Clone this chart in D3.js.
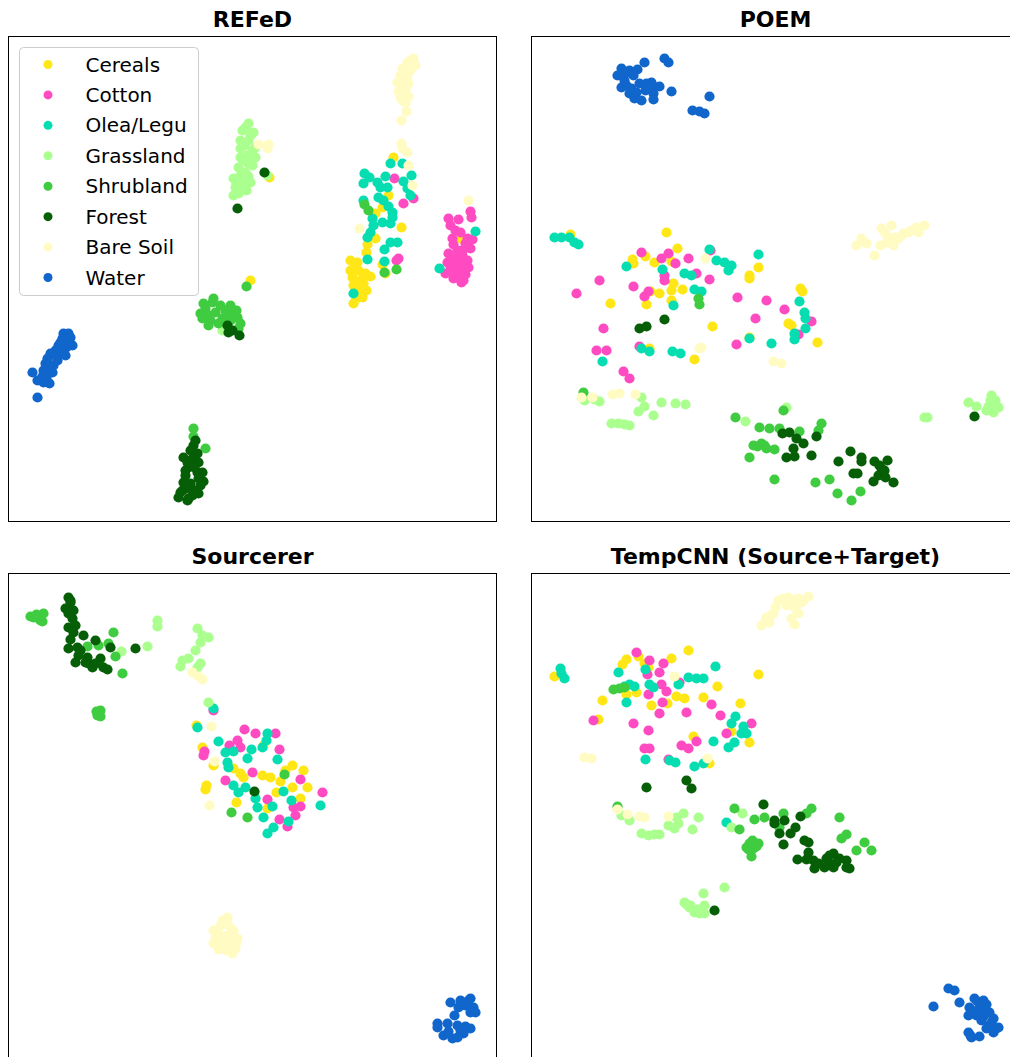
<!DOCTYPE html>
<html>
<head>
<meta charset="utf-8">
<script src="https://cdn.jsdelivr.net/npm/d3@7"></script>
<style>
  html, body { margin: 0; padding: 0; background: #fff; }
  svg { display: block; }
</style>
</head>
<body>
<svg id="chart" width="1010" height="1057"></svg>
<script>
// ---- Categories & colours ----
const classNames = ["Cereals", "Cotton", "Olea/Legu", "Grassland", "Shrubland", "Forest", "Bare Soil", "Water"];
const classColors = ["#FFE617", "#FF4BC1", "#06DDB0", "#AAFF8F", "#40CC40", "#065F06", "#FFFBC2", "#1166CC"];
const panelTitles = ["REFeD", "POEM", "Sourcerer", "TempCNN (Source+Target)"];

// ---- Embedding coordinates (2-D projection), per panel and class ----
// REFeD
const refedCereals = [[393,157],[388,195],[375,213],[382,207],[401,227],[375,238],[367,244],[366,252],[382,264],[385,273],[350,260],[357,262],[350,270],[358,270],[365,273],[352,277],[362,278],[370,276],[353,285],[363,283],[357,292],[362,297],[353,303],[457,233],[460,238],[250,280],[269,177],[355,266],[360,288],[366,290],[356,298],[354,280]];
const refedCotton = [[394,178],[403,203],[413,198],[396,260],[398,258],[470,211],[471,217],[448,218],[458,219],[450,225],[460,232],[452,238],[467,238],[472,239],[453,244],[470,248],[457,250],[448,253],[462,255],[467,260],[453,260],[447,262],[460,263],[468,267],[457,268],[463,270],[445,273],[452,273],[460,277],[453,278],[463,280],[461,282],[455,230],[465,243],[462,250],[456,257],[450,266],[465,274],[455,270]];
const refedOlea = [[390,163],[402,163],[364,173],[369,177],[363,183],[385,176],[377,182],[380,187],[387,187],[403,181],[411,175],[407,188],[410,195],[363,200],[378,197],[383,200],[388,206],[392,212],[372,218],[392,217],[382,222],[390,223],[373,225],[370,232],[367,237],[390,242],[397,242],[384,249],[367,259],[384,261],[353,293],[439,268],[475,231]];
const refedGrass = [[248,123],[242,130],[253,132],[240,140],[248,140],[255,147],[240,148],[247,155],[255,157],[240,157],[248,163],[238,167],[245,172],[233,178],[242,180],[250,182],[235,187],[243,187],[238,193],[233,195],[267,175],[222,330],[245,127],[250,135],[244,145],[252,150],[243,160],[252,165],[240,175],[248,176],[236,183],[246,190]];
const refedShrub = [[246,286],[213,298],[203,303],[220,305],[200,313],[208,315],[230,305],[233,312],[237,317],[240,323],[208,325],[218,323],[202,318],[215,312],[227,317],[364,204],[368,210],[384,272],[396,269],[193,428],[193,436],[205,448],[205,308],[212,302],[225,310],[236,310],[238,328],[230,320],[222,318],[210,320]];
const refedForest = [[264,172],[237,208],[227,325],[232,330],[239,335],[228,332],[193,445],[190,450],[197,453],[183,457],[192,458],[198,462],[188,467],[202,472],[197,472],[203,481],[183,482],[190,483],[182,490],[193,490],[198,493],[178,497],[188,498],[187,500],[195,440],[187,462],[194,467],[185,475],[198,478],[186,488],[192,495],[180,492],[200,485],[185,470]];
const refedBare = [[413,58],[407,62],[415,65],[402,68],[410,70],[400,75],[407,77],[397,82],[408,83],[402,88],[403,93],[400,97],[405,102],[406,111],[401,120],[401,143],[402,148],[407,152],[408,165],[412,185],[359,228],[468,200],[258,144],[268,144],[267,148],[410,60],[405,72],[403,80],[406,87],[398,91],[402,100],[408,96]];
const refedWater = [[63,333],[68,333],[62,338],[72,345],[58,345],[55,350],[65,355],[50,353],[47,358],[57,360],[45,363],[53,365],[43,370],[52,372],[32,372],[37,380],[43,382],[49,383],[37,397],[70,337],[60,342],[66,347],[56,356],[48,366],[42,376],[46,377],[60,350],[64,340]];

// POEM
const poemCereals = [[570,234],[666,232],[677,248],[632,259],[633,263],[645,256],[654,262],[671,261],[673,283],[671,290],[682,289],[659,293],[671,300],[646,304],[610,303],[650,291],[758,267],[749,275],[749,278],[800,288],[802,291],[788,323],[791,325],[712,326],[749,337],[817,342],[694,359],[649,348]];
const poemCotton = [[641,252],[599,280],[576,293],[633,286],[661,258],[668,253],[664,280],[675,263],[688,258],[696,273],[709,279],[648,291],[644,296],[664,275],[603,328],[596,350],[606,350],[639,346],[623,371],[629,378],[737,297],[766,300],[784,309],[755,318],[811,321],[798,334],[736,344],[710,250]];
const poemOlea = [[554,237],[561,237],[569,237],[574,242],[578,244],[626,266],[662,269],[684,273],[691,275],[709,249],[716,260],[724,262],[731,265],[728,270],[758,254],[694,289],[701,291],[673,305],[799,301],[804,312],[805,318],[805,328],[794,333],[794,339],[749,338],[771,343],[602,361],[641,348],[649,351],[672,351],[680,353]];
const poemGrass = [[968,402],[976,406],[991,395],[991,403],[998,407],[986,410],[993,412],[924,417],[786,407],[745,421],[584,400],[599,401],[641,397],[644,406],[638,411],[653,415],[661,402],[675,403],[685,404],[611,423],[618,423],[624,424],[629,425],[594,399],[990,400],[995,400],[988,406],[927,417]];
const poemShrub = [[698,298],[699,304],[583,392],[735,417],[783,410],[759,427],[769,428],[779,428],[799,431],[821,423],[818,430],[753,445],[761,443],[766,448],[774,449],[749,457],[774,479],[815,482],[829,479],[837,493],[851,500],[860,491],[757,446],[764,445]];
const poemForest = [[639,328],[646,326],[664,319],[782,433],[789,432],[796,438],[803,443],[793,448],[786,457],[794,456],[816,436],[811,455],[850,451],[838,461],[861,457],[861,461],[853,473],[857,473],[874,461],[887,460],[881,468],[878,475],[873,481],[885,477],[893,482],[974,416],[879,465],[884,470]];
const poemBare = [[881,228],[891,225],[916,227],[924,225],[861,238],[856,245],[866,243],[886,242],[894,237],[903,233],[911,230],[918,232],[893,245],[874,255],[898,238],[581,397],[592,397],[612,394],[619,393],[635,394],[705,258],[699,348],[701,347],[773,361],[781,363],[908,232],[900,236],[889,240],[880,245],[885,233]];
const poemWater = [[621,68],[617,75],[629,70],[637,69],[644,62],[664,58],[668,62],[624,80],[621,87],[631,88],[639,83],[646,83],[651,82],[659,86],[629,93],[634,98],[641,100],[653,93],[653,99],[671,91],[709,96],[692,110],[699,111],[704,113],[625,73],[633,75],[626,85],[636,92],[645,90],[650,87]];

// Sourcerer
const srcCereals = [[196,725],[202,747],[213,765],[233,768],[240,773],[243,777],[262,775],[270,777],[280,781],[292,765],[285,770],[303,770],[307,787],[292,787],[276,792],[206,785],[205,789],[236,802],[267,808],[263,745],[300,798]];
const srcCotton = [[244,729],[255,733],[275,733],[229,745],[237,740],[240,747],[279,749],[203,755],[204,751],[252,772],[225,780],[300,779],[267,799],[293,807],[300,806],[295,815],[322,792],[279,819],[287,826],[213,710]];
const srcOlea = [[213,708],[197,727],[218,741],[267,733],[266,740],[262,747],[225,752],[233,751],[251,749],[247,758],[227,762],[228,767],[277,759],[233,785],[245,787],[238,792],[255,798],[257,807],[272,806],[283,791],[291,800],[320,805],[263,817],[273,827],[267,833],[288,821]];
const srcGrass = [[157,620],[157,626],[147,646],[121,651],[197,628],[202,635],[208,637],[200,642],[195,650],[182,660],[188,658],[200,663],[180,666],[197,667],[208,702]];
const srcShrub = [[33,617],[40,620],[43,613],[113,632],[87,646],[98,645],[108,643],[115,656],[99,663],[122,673],[98,713],[97,715],[231,812],[247,817],[284,774],[36,614],[38,618],[42,621],[30,616],[100,710],[96,711],[100,716]];
const srcForest = [[68,597],[70,602],[65,608],[73,610],[72,618],[68,627],[73,632],[70,639],[83,635],[95,640],[110,647],[135,648],[68,648],[77,647],[78,655],[87,657],[75,662],[88,663],[100,658],[92,667],[103,667],[107,669],[254,791],[70,600],[68,613],[75,625],[80,650],[85,662],[95,663]];
const srcBare = [[192,672],[198,676],[202,679],[211,726],[214,761],[209,805],[227,917],[222,920],[213,930],[233,930],[215,937],[227,935],[237,938],[213,943],[222,947],[233,945],[235,948],[218,949],[232,953],[227,942],[220,925],[228,925],[218,933],[230,940],[220,940],[226,950],[236,942]];
const srcWater = [[450,1002],[460,1000],[470,998],[465,1005],[473,1007],[458,1007],[475,1012],[454,1015],[437,1023],[447,1023],[457,1025],[465,1026],[470,1028],[463,1033],[443,1035],[452,1038],[457,1037],[437,1027],[468,1000],[462,1003],[470,1012],[460,1030],[448,1031]];

// TempCNN (Source+Target)
const tcnnCereals = [[554,676],[688,650],[638,656],[626,659],[622,664],[671,658],[644,663],[758,674],[717,686],[602,700],[626,694],[636,692],[676,696],[684,698],[703,697],[667,703],[651,705],[740,703],[598,719],[731,731],[693,736],[749,742],[709,763],[648,667]];
const tcnnCotton = [[636,652],[649,660],[663,663],[659,672],[647,674],[661,684],[666,691],[648,694],[662,702],[659,713],[686,712],[711,704],[720,715],[593,720],[633,723],[648,730],[726,733],[751,723],[696,741],[681,745],[688,748],[644,748],[649,748],[668,759],[679,682]];
const tcnnOlea = [[560,668],[561,673],[564,678],[618,672],[645,669],[624,686],[629,684],[634,686],[649,684],[653,687],[678,684],[688,677],[696,678],[703,678],[715,666],[626,702],[735,716],[731,723],[743,726],[741,733],[746,733],[734,742],[728,747],[713,741],[645,759],[669,760],[675,762],[694,766],[703,763],[726,822]];
const tcnnGrass = [[742,813],[731,827],[621,815],[629,820],[683,813],[676,817],[668,825],[678,823],[674,828],[692,829],[698,817],[641,833],[648,835],[654,834],[659,834],[724,887],[703,893],[684,902],[689,907],[694,912],[699,913],[704,905],[704,913],[690,905],[697,909],[686,904]];
const tcnnShrub = [[613,689],[619,688],[624,687],[734,808],[754,819],[764,817],[783,813],[779,827],[739,829],[749,843],[758,843],[746,847],[753,848],[751,856],[811,808],[806,813],[839,817],[846,834],[841,838],[864,842],[856,850],[871,850],[617,806],[752,840],[756,846],[748,849]];
const tcnnForest = [[646,787],[686,780],[691,788],[763,804],[774,820],[774,823],[784,820],[800,816],[795,827],[790,833],[779,833],[783,844],[804,840],[808,842],[808,852],[797,859],[806,859],[813,860],[814,868],[824,867],[828,862],[833,867],[833,853],[829,855],[839,858],[846,860],[846,867],[849,868],[714,910],[826,858],[836,862],[818,863]];
const tcnnBare = [[788,597],[798,598],[808,596],[778,600],[786,605],[801,602],[773,613],[766,617],[798,613],[791,618],[761,625],[769,622],[794,624],[674,676],[584,757],[591,758],[707,758],[617,809],[627,814],[639,816],[644,817],[668,816],[783,598],[793,600],[803,600],[775,607],[770,615],[795,608],[790,603],[765,620]];
const tcnnWater = [[948,988],[954,990],[933,1006],[959,1002],[974,998],[983,1000],[969,1007],[979,1007],[984,1010],[968,1015],[976,1015],[989,1012],[981,1020],[993,1018],[989,1025],[996,1028],[993,1032],[968,1032],[971,1037],[979,1036],[998,1027],[977,1001],[986,1004],[974,1011],[983,1016],[991,1022],[986,1028],[970,1035]];

// Embedding extents (data domain of each panel)
const xDomains = [[8,496],[531,1019],[8,496],[531,1019]];
const yDomains = [[36,521],[36,521],[573,1058],[573,1058]];

const panelData = [
  [refedCereals, refedCotton, refedOlea, refedGrass, refedShrub, refedForest, refedBare, refedWater],
  [poemCereals, poemCotton, poemOlea, poemGrass, poemShrub, poemForest, poemBare, poemWater],
  [srcCereals, srcCotton, srcOlea, srcGrass, srcShrub, srcForest, srcBare, srcWater],
  [tcnnCereals, tcnnCotton, tcnnOlea, tcnnGrass, tcnnShrub, tcnnForest, tcnnBare, tcnnWater]
];

// ---- Layout ----
const svg = d3.select("#chart");
const panelW = 488, panelH = 485;
const panelPos = [[8.5, 36.5], [531.5, 36.5], [8.5, 573.5], [531.5, 573.5]];
const font = "'DejaVu Sans', sans-serif";

panelData.forEach((classes, pi) => {
  const [px, py] = panelPos[pi];
  const g = svg.append("g").attr("transform", `translate(${px},${py})`);
  const x = d3.scaleLinear().domain(xDomains[pi]).range([0, panelW]);
  const y = d3.scaleLinear().domain(yDomains[pi]).range([0, panelH]);

  const clipId = "clip" + pi;
  g.append("clipPath").attr("id", clipId)
    .append("rect").attr("width", panelW).attr("height", panelH);

  const pts = g.append("g").attr("clip-path", `url(#${clipId})`);
  classes.forEach((arr, ci) => {
    pts.selectAll(null).data(arr).join("circle")
      .attr("cx", d => x(d[0]))
      .attr("cy", d => y(d[1]))
      .attr("r", 5.1)
      .attr("fill", classColors[ci]);
  });

  g.append("rect")
    .attr("width", panelW).attr("height", panelH)
    .attr("fill", "none").attr("stroke", "#000").attr("stroke-width", 1);

  svg.append("text")
    .attr("x", px + panelW / 2)
    .attr("y", py - 10)
    .attr("text-anchor", "middle")
    .attr("font-family", font)
    .attr("font-weight", "bold")
    .attr("font-size", 22)
    .attr("fill", "#000")
    .text(panelTitles[pi]);
});

// ---- Legend (in first panel) ----
const lg = svg.append("g").attr("transform", "translate(19.5,47.5)");
lg.append("rect")
  .attr("width", 179).attr("height", 248)
  .attr("rx", 4).attr("ry", 4)
  .attr("fill", "#fff").attr("fill-opacity", 0.8)
  .attr("stroke", "#cccccc").attr("stroke-width", 1);
const rowY = d3.scaleLinear().domain([0, 7]).range([17, 230]);
classNames.forEach((name, i) => {
  lg.append("circle")
    .attr("cx", 28.5).attr("cy", rowY(i))
    .attr("r", 4.5).attr("fill", classColors[i]);
  lg.append("text")
    .attr("x", 66).attr("y", rowY(i) + 7)
    .attr("font-family", font)
    .attr("font-size", 20)
    .attr("fill", "#000")
    .text(name);
});
</script>
</body>
</html>
